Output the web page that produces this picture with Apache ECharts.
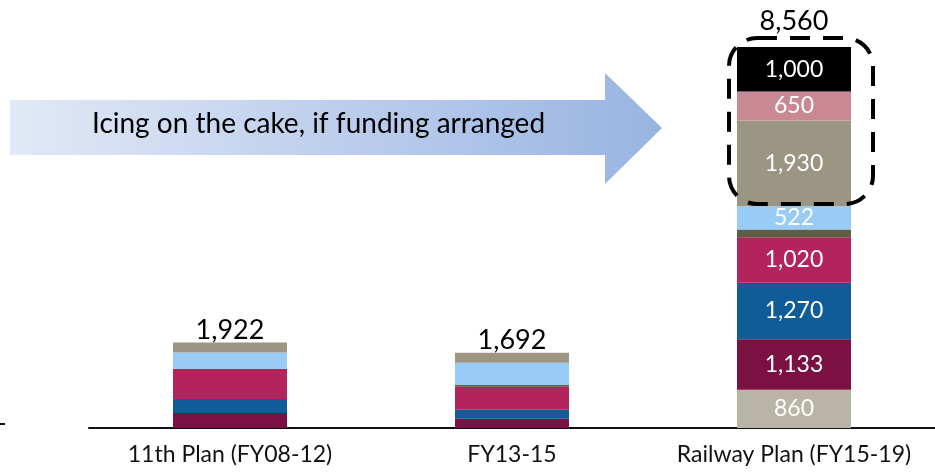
<!DOCTYPE html>
<html lang="en">
<head>
    <meta charset="UTF-8">
    <title>Railway plan</title>
    <script src="https://cdn.jsdelivr.net/npm/echarts@6/dist/echarts.min.js"></script>
    <style>
        html, body { margin: 0; padding: 0; background: #fff; }
        #chart { width: 935px; height: 475px; }
    </style>
</head>
<body>
<div id="chart"></div>
<script type="text/javascript">
    var categories = ['11th Plan (FY08-12)', 'FY13-15', 'Railway Plan (FY15-19)'];
    // segments bottom -> top
    var segBase    = [0, 0, 860];
    var segMaroon  = [335, 206, 1133];
    var segBlue    = [317, 205, 1270];
    var segCrimson = [680, 517, 1020];
    var segOlive   = [0, 45, 175];
    var segSky     = [365, 494, 522];
    var segGrey    = [225, 225, 1930];
    var segPink    = [0, 0, 650];
    var segBlack   = [0, 0, 1000];
    var totals     = [1922, 1692, 8560];

    var segments = [
        { name: 'base',    data: segBase,    color: '#b8b4a6', label: true },
        { name: 'maroon',  data: segMaroon,  color: '#7b1142', label: true },
        { name: 'blue',    data: segBlue,    color: '#0f5c99', label: true },
        { name: 'crimson', data: segCrimson, color: '#b3245d', label: true },
        { name: 'olive',   data: segOlive,   color: '#5e5d45', label: false },
        { name: 'sky',     data: segSky,     color: '#99cbf7', label: true },
        { name: 'grey',    data: segGrey,    color: '#9b9584', label: true },
        { name: 'pink',    data: segPink,    color: '#c98994', label: true },
        { name: 'black',   data: segBlack,   color: '#000000', label: true }
    ];

    var fmt = function (v) {
        return String(v).replace(/\B(?=(\d{3})+(?!\d))/g, ',');
    };
    var font = 'Lato, "DejaVu Sans", sans-serif';

    var series = segments.map(function (s) {
        return {
            name: s.name,
            type: 'bar',
            stack: 'total',
            barWidth: 114,
            data: s.data,
            itemStyle: { color: s.color },
            label: {
                show: s.label,
                position: 'inside',
                color: '#fff',
                fontSize: 23,
                fontFamily: font,
                formatter: function (p) {
                    // only the last bar carries segment labels
                    return p.dataIndex === 2 ? fmt(p.value) : '';
                }
            }
        };
    });
    // big plan total sits higher, above the dashed box
    var totalData = totals.map(function (v, i) {
        return i === 2 ? { value: v, label: { distance: 12 } } : v;
    });
    series.push({
        name: 'total',
        type: 'bar',
        barWidth: 114,
        barGap: '-100%',
        data: totalData,
        z: 0,
        itemStyle: { color: 'rgba(0,0,0,0)' },
        label: {
            show: true,
            position: 'top',
            distance: -1,
            color: '#000',
            fontSize: 27,
            fontFamily: font,
            formatter: function (p) { return fmt(p.value); }
        }
    });

    var chart = echarts.init(document.getElementById('chart'));
    var option = {
        animation: false,
        grid: { left: 89, right: -7, top: 47, bottom: 47 },
        xAxis: {
            type: 'category',
            data: categories,
            axisLine: { lineStyle: { color: '#111', width: 2 } },
            axisTick: { show: false },
            axisLabel: { interval: 0, color: '#111', fontSize: 23, fontFamily: font, margin: 15 }
        },
        yAxis: {
            type: 'value',
            min: 0,
            max: 8560,
            show: false
        },
        series: series,
        graphic: [
            {
                type: 'polygon',
                z: 10,
                shape: {
                    points: [[10, 100], [605, 100], [605, 73], [662, 128], [605, 184], [605, 155], [10, 155]]
                },
                style: {
                    fill: new echarts.graphic.LinearGradient(0, 0, 1, 0, [
                        { offset: 0, color: '#e2e9f6' },
                        { offset: 1, color: '#98b4e2' }
                    ])
                }
            },
            {
                type: 'text',
                z: 11,
                left: 92,
                top: 110,
                style: {
                    text: 'Icing on the cake, if funding arranged',
                    fill: '#000',
                    fontSize: 28,
                    fontFamily: font
                }
            },
            {
                type: 'rect',
                z: 20,
                shape: { x: 729, y: 38, width: 144, height: 166, r: 28 },
                style: { fill: null, stroke: '#000', lineWidth: 4, lineDash: [20, 13] }
            },
            {
                type: 'line',
                shape: { x1: 0, y1: 424, x2: 5, y2: 424 },
                style: { stroke: '#111', lineWidth: 2 }
            }
        ]
    };
    chart.setOption(option);
</script>
</body>
</html>
